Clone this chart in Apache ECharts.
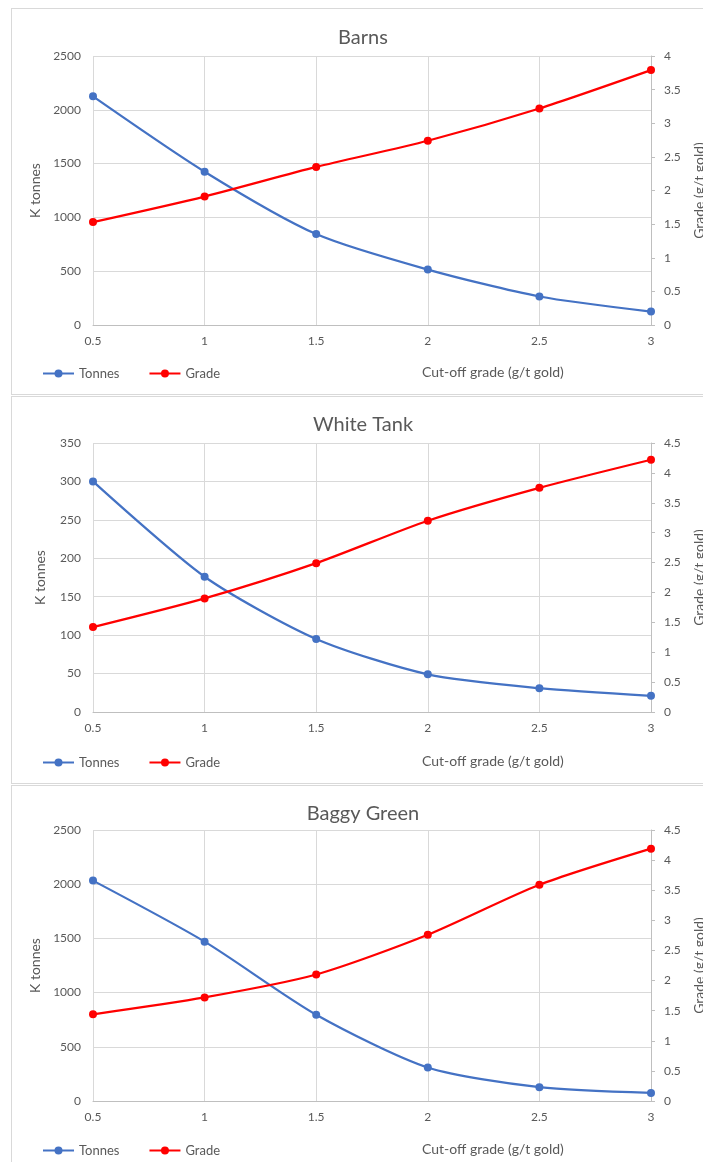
<!DOCTYPE html>
<html>
<head>
<meta charset="utf-8">
<script src="https://cdn.jsdelivr.net/npm/echarts@6/dist/echarts.min.js"></script>
<style>
  html, body { margin: 0; padding: 0; width: 703px; height: 1162px; overflow: hidden; background: #fff; }
  .panel { position: absolute; left: 11px; width: 720px; border: 1px solid #d9d9d9; box-sizing: border-box; }
  .chart { position: absolute; left: 0; width: 703px; }
</style>
</head>
<body>
<div class="panel" style="top:8px; height:387px;"></div>
<div class="panel" style="top:396px; height:388px;"></div>
<div class="panel" style="top:785px; height:400px;"></div>
<div id="barns" class="chart" style="top:0px; height:394px;"></div>
<div id="whiteTank" class="chart" style="top:390px; height:394px;"></div>
<div id="baggyGreen" class="chart" style="top:780px; height:382px;"></div>
<script>
// cut-off grades (g/t gold), shared by all three charts
const cutoff = [0.5, 1, 1.5, 2, 2.5, 3];

// Barns
const barnsTonnes = [2125, 1425, 845, 515, 265, 125];
const barnsGrade = [1.53, 1.91, 2.35, 2.74, 3.22, 3.79];

// White Tank
const whiteTankTonnes = [300, 176, 95, 49, 31, 21];
const whiteTankGrade = [1.42, 1.90, 2.49, 3.20, 3.75, 4.22];

// Baggy Green
const baggyGreenTonnes = [2033, 1470, 796, 309, 127, 74];
const baggyGreenGrade = [1.44, 1.72, 2.10, 2.76, 3.59, 4.19];

const textColor = '#595959';
const font = 'Lato, "Open Sans", sans-serif';

const pairs = (vals) => cutoff.map((c, i) => [c, vals[i]]);

const makeOption = (cfg) => {
    return {
        animation: false,
        textStyle: { fontFamily: font, color: textColor },
        title: {
            text: cfg.title,
            left: 358,
            top: cfg.titleTop,
            textAlign: 'center',
            textStyle: { fontFamily: font, fontSize: 20, fontWeight: 'normal', color: textColor }
        },
        legend: {
            left: 42,
            top: cfg.legendTop,
            padding: 0,
            itemWidth: 31,
            itemHeight: 10,
            itemGap: 29,
            textStyle: { fontFamily: font, fontSize: 13, color: textColor },
            data: ['Tonnes', 'Grade']
        },
        // exact plot box; the right axis name is allowed to run off the page
        grid: { left: 93, right: 52, top: cfg.gridTop, bottom: cfg.gridBottom, outerBoundsMode: 'none', containLabel: false },
        graphic: [{
            type: 'text',
            left: 422,
            top: cfg.legendTop - 2,
            style: { text: 'Cut-off grade (g/t gold)', fontFamily: font, fontSize: 14, fill: textColor }
        }],
        xAxis: {
            type: 'value',
            min: 0.5,
            max: 3,
            interval: 0.5,
            axisLine: { show: true, lineStyle: { color: '#bfbfbf', width: 1 } },
            axisTick: { show: false },
            axisLabel: { fontFamily: font, fontSize: 12, color: textColor, margin: 10 },
            splitLine: { show: true, lineStyle: { color: '#d9d9d9', width: 1 } }
        },
        yAxis: [
            {
                type: 'value',
                min: 0,
                max: cfg.tonnesMax,
                interval: cfg.tonnesStep,
                name: 'K tonnes',
                nameLocation: 'middle',
                nameRotate: 90,
                nameGap: 46,
                nameTextStyle: { fontFamily: font, fontSize: 14, color: textColor },
                axisLine: { show: false },
                axisTick: { show: false },
                axisLabel: { fontFamily: font, fontSize: 12, color: textColor, margin: 12, formatter: (v) => String(v) },
                splitLine: { show: true, lineStyle: { color: '#d9d9d9', width: 1 } }
            },
            {
                type: 'value',
                position: 'right',
                min: 0,
                max: cfg.gradeMax,
                interval: 0.5,
                name: 'Grade (g/t gold)',
                nameLocation: 'middle',
                nameRotate: 90,
                nameGap: 41,
                nameTextStyle: { fontFamily: font, fontSize: 14, color: textColor },
                axisLine: { show: true, lineStyle: { color: '#bfbfbf', width: 1 } },
                axisTick: { show: true, length: 4, lineStyle: { color: '#bfbfbf' } },
                axisLabel: { fontFamily: font, fontSize: 12, color: textColor, margin: 13 },
                splitLine: { show: false }
            }
        ],
        series: [
            {
                name: 'Tonnes',
                type: 'line',
                yAxisIndex: 0,
                smooth: 0.25,
                symbol: 'circle',
                symbolSize: 8,
                itemStyle: { color: '#4472c4' },
                lineStyle: { color: '#4472c4', width: 2.25 },
                data: pairs(cfg.tonnes)
            },
            {
                name: 'Grade',
                type: 'line',
                yAxisIndex: 1,
                smooth: 0.25,
                symbol: 'circle',
                symbolSize: 8,
                itemStyle: { color: '#ff0000' },
                lineStyle: { color: '#ff0000', width: 2.25 },
                data: pairs(cfg.grade)
            }
        ]
    };
};

const barnsChart = echarts.init(document.getElementById('barns'));
barnsChart.setOption(makeOption({
    title: 'Barns', titleTop: 23, legendTop: 367, gridTop: 56, gridBottom: 69,
    tonnesMax: 2500, tonnesStep: 500, gradeMax: 4,
    tonnes: barnsTonnes, grade: barnsGrade
}));

const whiteTankChart = echarts.init(document.getElementById('whiteTank'));
whiteTankChart.setOption(makeOption({
    title: 'White Tank', titleTop: 20, legendTop: 366, gridTop: 53, gridBottom: 72,
    tonnesMax: 350, tonnesStep: 50, gradeMax: 4.5,
    tonnes: whiteTankTonnes, grade: whiteTankGrade
}));

const baggyGreenChart = echarts.init(document.getElementById('baggyGreen'));
baggyGreenChart.setOption(makeOption({
    title: 'Baggy Green', titleTop: 19, legendTop: 364, gridTop: 50, gridBottom: 61,
    tonnesMax: 2500, tonnesStep: 500, gradeMax: 4.5,
    tonnes: baggyGreenTonnes, grade: baggyGreenGrade
}));
</script>
</body>
</html>
